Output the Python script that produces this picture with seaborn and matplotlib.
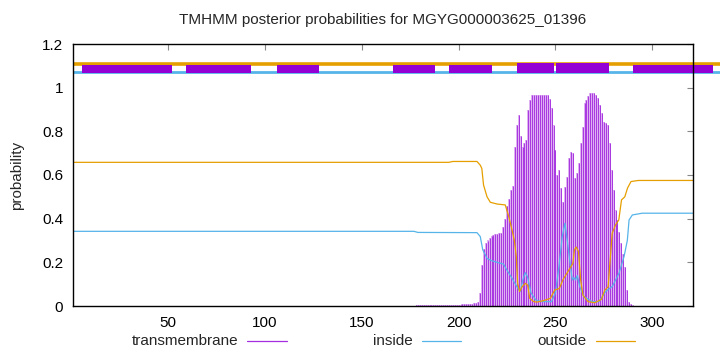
import matplotlib
matplotlib.use("Agg")
import matplotlib.pyplot as plt
from matplotlib.lines import Line2D
import seaborn as sns

# --- data ---
seq_len = 321

# transmembrane posterior, one value per residue (178..290)
tm_pos = list(range(178, 291))
tm_vals = ([0.005] * 12 + [0.006] * 10 +
           [0.006, 0.006, 0.007, 0.007, 0.008, 0.008, 0.009, 0.010, 0.012, 0.015,
            0.02, 0.06, 0.19, 0.26, 0.29, 0.30, 0.31, 0.32, 0.325, 0.33,
            0.33, 0.335, 0.335, 0.36, 0.40, 0.46, 0.49, 0.53, 0.55, 0.73,
            0.83, 0.875, 0.78, 0.73, 0.745, 0.76, 0.90, 0.945, 0.967, 0.967,
            0.967, 0.967, 0.967, 0.967, 0.967, 0.967, 0.967, 0.95, 0.905, 0.83,
            0.715, 0.60, 0.623, 0.54, 0.478, 0.547, 0.592, 0.676, 0.707, 0.70,
            0.585, 0.608, 0.654, 0.745, 0.82, 0.928, 0.945, 0.962, 0.974, 0.975,
            0.975, 0.967, 0.952, 0.92, 0.883, 0.845, 0.836, 0.83, 0.745, 0.623,
            0.53, 0.44, 0.394, 0.34, 0.287, 0.24, 0.18, 0.073, 0.02, 0.01, 0.005])

inside_pos = [1, 177, 179, 209.5, 211.2, 212.5, 214.7, 217.2, 220.7, 223.2, 224.9,
              227.6, 230.1, 231.8, 233.2, 234.4, 235.6, 237.4, 239.9, 243, 248,
              250, 251.8, 253.5, 254.9, 256.1, 257.8, 258.7, 259.5, 260.4, 261.3,
              262.5, 264.7, 269, 272.5, 275.9, 279.4, 282.8, 285.4, 287.1, 288,
              289.7, 294.8, 321]
inside_vals = [0.342, 0.342, 0.337, 0.336, 0.318, 0.257, 0.218, 0.207, 0.198, 0.192, 0.165,
               0.127, 0.088, 0.066, 0.12, 0.153, 0.134, 0.06, 0.027, 0.02, 0.02,
               0.06, 0.18, 0.317, 0.379, 0.30, 0.18, 0.119, 0.13, 0.119, 0.14,
               0.09, 0.043, 0.02, 0.02, 0.066, 0.09, 0.15, 0.226, 0.30, 0.394,
               0.417, 0.425, 0.425]

outside_pos = [1, 195, 197, 209.5, 211.2, 212, 212.9, 214.7, 216.4, 219.9, 224.1,
               225.9, 227.6, 228.8, 229.8, 230.5, 231.5, 232.8, 234.5, 235.7, 236.7,
               238.8, 240.5, 244, 247.4, 249.6, 252, 253.8, 256.4, 259, 259.8,
               260.7, 261.9, 263, 264.2, 266.8, 270.3, 273.7, 275.5, 277.2, 278.1,
               279.3, 281, 282.7, 284.1, 285.8, 287.2, 289, 292.8, 321]
outside_vals = [0.658, 0.658, 0.662, 0.662, 0.645, 0.63, 0.554, 0.50, 0.475, 0.467, 0.463,
                0.41, 0.348, 0.30, 0.226, 0.104, 0.066, 0.088, 0.104, 0.095, 0.035,
                0.02, 0.018, 0.025, 0.035, 0.073, 0.08, 0.119, 0.157, 0.195, 0.257,
                0.27, 0.25, 0.12, 0.05, 0.02, 0.015, 0.03, 0.073, 0.088, 0.195,
                0.333, 0.371, 0.394, 0.486, 0.50, 0.54, 0.57, 0.575, 0.575]

# predicted topology band at the top
seg_start = [5.5, 59.2, 106.2, 166.2, 195.2, 230.1, 250.5, 290.1]
seg_end = [52, 92.9, 128, 187.9, 217.1, 249, 277.9, 331.2]
seg_tall = [False, False, False, False, False, True, True, False]
band_end = 335

xticks = [50, 100, 150, 200, 250, 300]
yticks = [0, 0.2, 0.4, 0.6, 0.8, 1, 1.2]
ytick_labels = ["0", "0.2", "0.4", "0.6", "0.8", "1", "1.2"]

c_tm = "#9400d3"
c_in = "#56b4e9"
c_out = "#e69f00"

sns.set_style("white")
plt.rcParams["font.family"] = ["Liberation Sans", "DejaVu Sans"]

fig = plt.figure(figsize=(7.2, 3.52), dpi=100)
ax = fig.add_axes([73 / 720, 1 - 306 / 352, 620 / 720, 262 / 352])

# transmembrane impulses
ax.fill_between(tm_pos, 0, tm_vals, step="mid", color="#deb0f2", lw=0, zorder=1)
ax.vlines(tm_pos, 0, tm_vals, color="#a42ee0", lw=0.65, zorder=2)

sns.lineplot(x=inside_pos, y=inside_vals, color=c_in, lw=0.9, sort=False, ax=ax, zorder=3)
sns.lineplot(x=outside_pos, y=outside_vals, color=c_out, lw=0.9, sort=False, ax=ax, zorder=3)

# topology band
ax.plot([1, band_end], [1.11, 1.11], color=c_out, lw=2.6, solid_capstyle="butt", clip_on=False, zorder=4)
ax.plot([1, band_end], [1.072, 1.072], color=c_in, lw=2.0, solid_capstyle="butt", clip_on=False, zorder=4)
for s, e, tall in zip(seg_start, seg_end, seg_tall):
    top = 1.115 if tall else 1.103
    ax.fill_between([s, e], 1.066, top, color=c_tm, lw=0, clip_on=False, zorder=5)

ax.set_xlim(1, seq_len)
ax.set_ylim(0, 1.2)
ax.set_xticks(xticks)
ax.set_yticks(yticks)
ax.set_yticklabels(ytick_labels)
ax.set_xlabel("")
ax.set_ylabel("")
ax.tick_params(direction="in", length=4, width=0.8, color="#888888",
               top=True, right=True, labelsize=11, pad=7, labelcolor="black")
for sp in ax.spines.values():
    sp.set_color("black")
    sp.set_linewidth(1.0)
    sp.set_zorder(6)

fig.text(383 / 720, 1 - 20 / 352, "TMHMM posterior probabilities for MGYG000003625_01396",
         ha="center", va="center", fontsize=11)
fig.text(17 / 720, 1 - 175 / 352, "probability", rotation=90, ha="center", va="center", fontsize=11)

# legend row under the axis
legend_items = [("transmembrane", "#a42ee0", 238, 247, 287),
                ("inside", c_in, 413, 422, 461),
                ("outside", c_out, 587, 596, 635)]
ly = 1 - 341 / 352
for label, col, tx, x0, x1 in legend_items:
    fig.text(tx / 720, ly, label, ha="right", va="center", fontsize=11)
    fig.add_artist(Line2D([x0 / 720, x1 / 720], [ly, ly], color=col, lw=0.9))

fig.savefig("out.png", dpi=100)
